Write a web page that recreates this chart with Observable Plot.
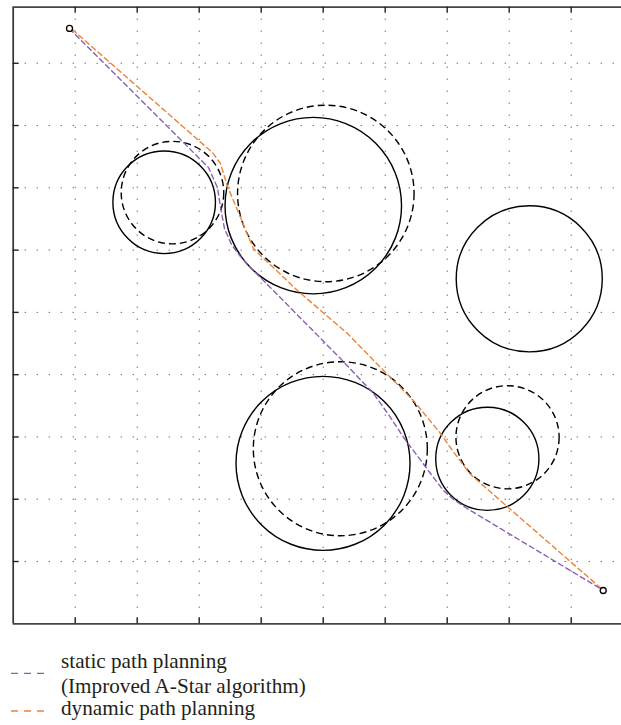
<!DOCTYPE html>
<html>
<head>
<meta charset="utf-8">
<script src="https://cdn.jsdelivr.net/npm/d3@7"></script>
<script src="https://cdn.jsdelivr.net/npm/@observablehq/plot@0.6"></script>
<style>
  html, body { margin: 0; padding: 0; background: #fff; }
  #chart svg { display: block; }
</style>
</head>
<body>
<div id="chart"></div>
<script>
// ---- data (plot units) ----
const gridX = [1, 2, 3, 4, 5, 6, 7, 8, 9];
const gridY = [1, 2, 3, 4, 5, 6, 7, 8, 9];

// obstacles: solid = current position, dashed = other position
const solidObstacles = [
  {x: 2.435, y: 6.767, r: 0.825},
  {x: 4.840, y: 6.714, r: 1.420},
  {x: 8.323, y: 5.539, r: 1.175},
  {x: 4.997, y: 2.576, r: 1.400},
  {x: 7.647, y: 2.649, r: 0.830}
];
const dashedObstacles = [
  {x: 2.569, y: 6.923, r: 0.825},
  {x: 5.042, y: 6.910, r: 1.420},
  {x: 5.276, y: 2.811, r: 1.400},
  {x: 7.973, y: 2.995, r: 0.830}
];

const endpoints = [
  {x: 0.908, y: 9.560},
  {x: 9.516, y: 0.535}
];

const staticX = [0.908, 3.150, 3.295, 3.344, 3.408, 3.521, 3.666, 3.795, 3.989, 5.279, 5.811, 6.053, 6.295, 6.731, 6.940, 7.102, 7.295, 9.521];
const staticY = [9.555, 7.325, 7.004, 6.683, 6.345, 6.088, 5.896, 5.751, 5.559, 4.258, 3.697, 3.360, 2.995, 2.413, 2.140, 1.995, 1.867, 0.535];

const dynamicX = [0.956, 3.215, 3.344, 3.452, 3.666, 3.774, 3.876, 3.989, 4.198, 4.585, 5.392, 5.973, 6.456, 6.892, 7.085, 7.376, 9.521];
const dynamicY = [9.540, 7.565, 7.388, 7.035, 6.526, 6.260, 6.024, 5.912, 5.719, 5.350, 4.660, 4.066, 3.584, 3.055, 2.782, 2.397, 0.535];

const legendLabels = ["static path planning", "(Improved A-Star algorithm)", "dynamic path planning"];

const purple = "#8b5fb8";
const orange = "#ee8336";

const staticPath = staticX.map((x, i) => ({x, y: staticY[i]}));
const dynamicPath = dynamicX.map((x, i) => ({x, y: dynamicY[i]}));

// ---- layout ----
const W = 621, H = 628;
const mL = 12.7, mR = 0, mT = 6.7, mB = 4.7;
const innerW = W - mL - mR, innerH = H - mT - mB;
const xDomain = [0, 9.811], yDomain = [0, 9.9];
const tick = 6;

const plot = Plot.plot({
  width: W,
  height: H,
  marginLeft: mL, marginRight: mR, marginTop: mT, marginBottom: mB,
  x: {domain: xDomain, axis: null},
  y: {domain: yDomain, axis: null},
  r: {type: "linear", domain: [0, 1], range: [0, 62.15]},
  marks: [
    Plot.ruleX(gridX, {x: d => d, stroke: "#333", strokeWidth: 1, strokeDasharray: "1,11"}),
    Plot.ruleY(gridY, {y: d => d, stroke: "#333", strokeWidth: 1, strokeDasharray: "1,11"}),
    Plot.dot(solidObstacles, {x: "x", y: "y", r: "r", fill: "none", stroke: "#000", strokeWidth: 1.4}),
    Plot.dot(dashedObstacles, {x: "x", y: "y", r: "r", fill: "none", stroke: "#000", strokeWidth: 1.4, strokeDasharray: "7,4"}),
    Plot.line(staticPath, {x: "x", y: "y", stroke: purple, strokeWidth: 1.4, strokeDasharray: "5,3.5", curve: "linear"}),
    Plot.line(dynamicPath, {x: "x", y: "y", stroke: orange, strokeWidth: 1.4, strokeDasharray: "5,3.5", curve: "linear"}),
    Plot.dot(endpoints, {x: "x", y: "y", r: 3, fill: "#fff", stroke: "#000", strokeWidth: 1.3}),
    // frame (left, top, bottom)
    Plot.ruleX([xDomain[0]], {x: d => d, stroke: "#333", strokeWidth: 1.7}),
    Plot.ruleY([yDomain[0], yDomain[1]], {y: d => d, stroke: "#444", strokeWidth: 1.7}),
    // inward ticks
    Plot.tickX(gridX, {x: d => d, insetBottom: innerH - tick, stroke: "#222", strokeWidth: 1.4}),
    Plot.tickX(gridX, {x: d => d, insetTop: innerH - tick, stroke: "#222", strokeWidth: 1.4}),
    Plot.tickY(gridY, {y: d => d, insetRight: innerW - tick, stroke: "#222", strokeWidth: 1.4})
  ]
});
document.getElementById("chart").appendChild(plot);

// ---- legend ----
const legend = d3.select("#chart").append("svg")
  .attr("width", W).attr("height", 725 - H)
  .style("display", "block");
const off = H;
const font = "'Liberation Serif', 'Times New Roman', serif";
const baselines = [667.7, 693.3, 715];
legendLabels.forEach((t, i) => {
  legend.append("text")
    .attr("x", 61).attr("y", baselines[i] - off)
    .attr("font-family", font).attr("font-size", 21.2)
    .attr("fill", "#231f20")
    .text(t);
});
const swatches = [{y: 673.3, c: purple}, {y: 711, c: orange}];
swatches.forEach(s => {
  legend.append("line")
    .attr("x1", 11).attr("x2", 45)
    .attr("y1", s.y - off).attr("y2", s.y - off)
    .attr("stroke", s.c).attr("stroke-width", 1.3)
    .attr("stroke-dasharray", "7,6");
});
</script>
</body>
</html>
